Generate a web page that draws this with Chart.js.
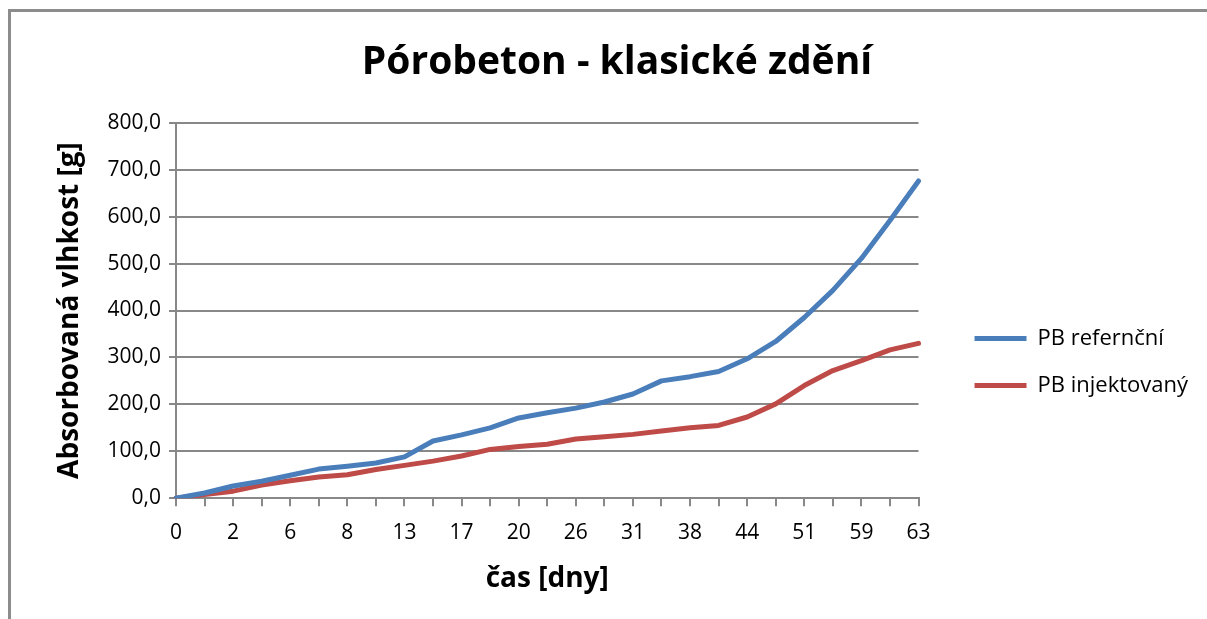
<!DOCTYPE html>
<html>
<head>
<meta charset="utf-8">
<script src="https://cdn.jsdelivr.net/npm/chart.js@4"></script>
<style>
  html, body { margin: 0; padding: 0; background: #fff; }
  #frame {
    position: absolute; left: 8px; top: 9px; width: 1220px; height: 640px;
    border-left: 3px solid #8c8c8c; border-top: 3px solid #8c8c8c;
  }
  #wrap { position: absolute; left: 0; top: 0; width: 1207px; height: 619px; }
</style>
</head>
<body>
<div id="frame"></div>
<div id="wrap"><canvas id="vlhkostChart" width="1207" height="619"></canvas></div>
<script>
const dny = [0, 1, 2, 4, 6, 7, 8, 10, 13, 15, 17, 19, 20, 23, 26, 28, 31, 35, 38, 41, 44, 48, 51, 55, 59, 61, 63];
const pbReferencni = [0, 11, 26, 36, 49, 62, 68, 75, 88, 122, 135, 150, 171, 182, 192, 205, 222, 250, 259, 270, 297, 334, 385, 443, 511, 592, 676];
const pbInjektovany = [0, 8, 15, 28, 37, 45, 50, 61, 70, 79, 90, 104, 110, 115, 126, 131, 136, 143, 150, 155, 173, 201, 240, 272, 293, 316, 330];
const yTicks = [0, 100, 200, 300, 400, 500, 600, 700, 800];

const font = "'Open Sans', sans-serif";
const grid = "#888888";

// posune legendu a nadpis (jako v Excelu)
const boxShift = {
  id: "boxShift",
  afterLayout(chart) {
    const lg = chart.legend;
    const dx = chart.chartArea.right + 56 - lg.options.labels.padding - lg.left;
    lg.left += dx;
    lg.right += dx;
    lg.top += 62;
    lg.bottom += 62;
    const tb = chart.titleBlock;
    tb.left += 20;
    tb.right += 20;
  },
};

const ctx = document.getElementById("vlhkostChart").getContext("2d");

const vlhkostChart = new Chart(ctx, {
  type: "line",
  data: {
    labels: dny,
    datasets: [
      {
        label: "PB refernční",
        data: pbReferencni,
        borderColor: "#4a7ebb",
        backgroundColor: "#4a7ebb",
        borderWidth: 5,
        borderCapStyle: "round",
        borderJoinStyle: "round",
        pointRadius: 0,
        tension: 0,
      },
      {
        label: "PB injektovaný",
        data: pbInjektovany,
        borderColor: "#be4b48",
        backgroundColor: "#be4b48",
        borderWidth: 5,
        borderCapStyle: "round",
        borderJoinStyle: "round",
        pointRadius: 0,
        tension: 0,
      },
    ],
  },
  plugins: [boxShift],
  options: {
    responsive: false,
    animation: false,
    layout: { padding: { left: 27, right: 40, top: 0, bottom: 19 } },
    scales: {
      x: {
        type: "category",
        offset: false,
        grid: { display: true, drawOnChartArea: false, drawTicks: true, tickLength: 8, color: grid, lineWidth: 2 },
        border: { color: grid, width: 2 },
        ticks: {
          autoSkip: false,
          maxRotation: 0,
          padding: 14,
          color: "#000",
          font: { family: font, size: 21 },
          callback: function (value, index) {
            return index % 2 === 0 ? dny[index] : "";
          },
        },
        title: {
          display: true,
          text: "čas [dny]",
          color: "#000",
          font: { family: font, size: 28, weight: "bold" },
          padding: { top: 3, bottom: 4 },
        },
      },
      y: {
        min: 0,
        max: 800,
        afterFit: function (scale) {
          scale.width = 149;
        },
        afterBuildTicks: function (scale) {
          scale.ticks = yTicks.map(function (v) { return { value: v }; });
        },
        grid: { color: grid, lineWidth: 2, tickLength: 7 },
        border: { color: grid, width: 2 },
        ticks: {
          padding: 8,
          color: "#000",
          font: { family: font, size: 21 },
          callback: function (value) {
            return value.toFixed(1).replace(".", ",");
          },
        },
        title: {
          display: true,
          text: "Absorbovaná vlhkost [g]",
          color: "#000",
          font: { family: font, size: 28, weight: "bold" },
          padding: { top: 26, bottom: 4 },
        },
      },
    },
    plugins: {
      title: {
        display: true,
        text: "Pórobeton - klasické zdění",
        color: "#000",
        font: { family: font, size: 39, weight: "bold" },
        padding: { top: 39, bottom: 37 },
      },
      legend: {
        display: true,
        position: "right",
        labels: {
          usePointStyle: true,
          pointStyle: "line",
          pointStyleWidth: 52,
          padding: 25,
          color: "#000",
          font: { family: font, size: 22 },
        },
      },
      tooltip: { enabled: false },
    },
  },
});
</script>
</body>
</html>
